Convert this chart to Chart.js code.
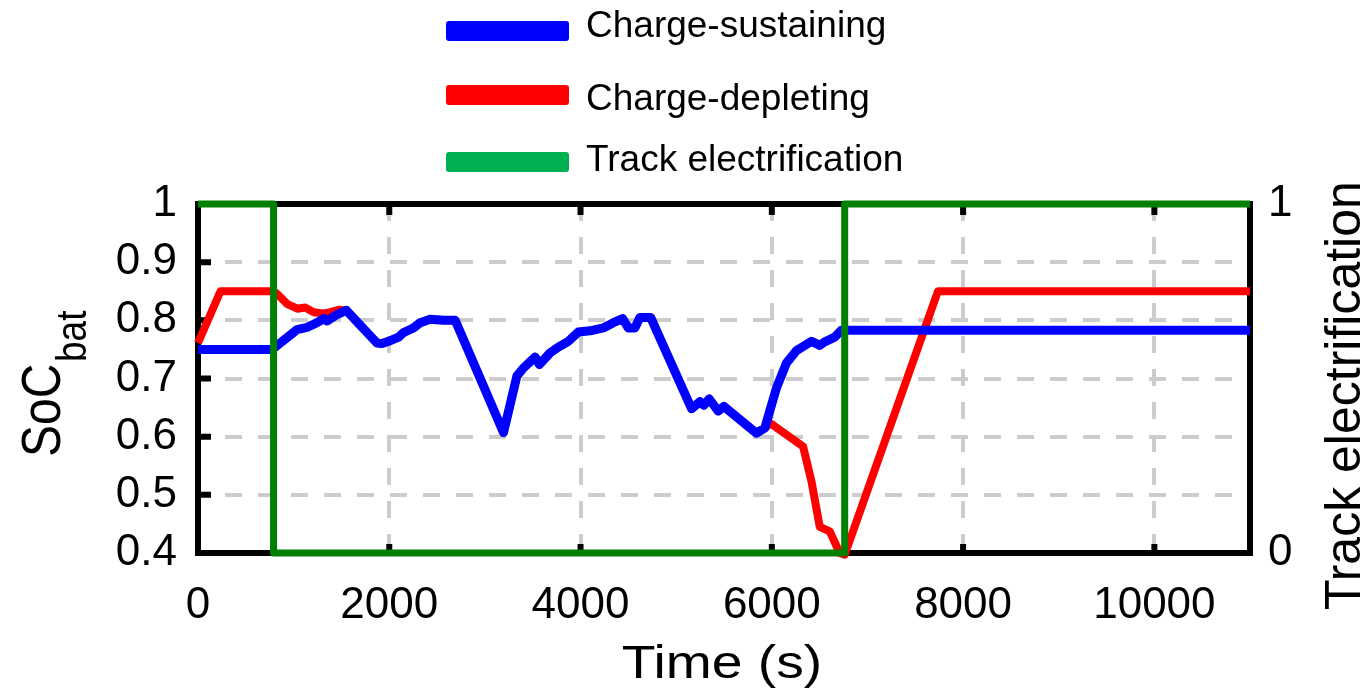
<!DOCTYPE html>
<html>
<head>
<meta charset="utf-8">
<script src="https://cdn.jsdelivr.net/npm/chart.js@4.4.1/dist/chart.umd.min.js"></script>
<style>
  html, body { margin: 0; padding: 0; background: #fff; }
  #wrap { position: relative; width: 1368px; height: 689px; }
  #legend { position: absolute; left: 0; top: 0; font-family: "Liberation Sans", Arial, sans-serif; font-size: 37px; line-height: 37px; color: #000; }
  .swatch { position: absolute; left: 446px; width: 123px; height: 20px; border-radius: 3px; }
  .label { position: absolute; left: 586px; white-space: nowrap; }
</style>
</head>
<body>
<div id="wrap">
  <canvas id="chart" width="1368" height="689"></canvas>
  <div id="legend">
    <div class="swatch" style="top:21px;background:#0000ff"></div>
    <div class="label" style="top:6px">Charge-sustaining</div>
    <div class="swatch" style="top:85px;background:#ff0000"></div>
    <div class="label" style="top:79px">Charge-depleting</div>
    <div class="swatch" style="top:152px;background:#00b050"></div>
    <div class="label" style="top:140px">Track electrification</div>
  </div>
</div>
<script>
// tick values
const xTicks = [0, 2000, 4000, 6000, 8000, 10000];
const socTicks = [0.4, 0.5, 0.6, 0.7, 0.8, 0.9, 1];
const trackTicks = [0, 1];

// charge-sustaining, before it joins the depleting run
const csStartT = [0, 775, 1036, 1140, 1245, 1314, 1350, 1454];
const csStartV = [0.75, 0.75, 0.784, 0.788, 0.796, 0.803, 0.799, 0.81];

// charge-depleting, before it joins
const cdStartT = [0, 235, 790, 830, 935, 1040, 1120, 1210, 1310, 1385, 1470];
const cdStartV = [0.761, 0.85, 0.85, 0.845, 0.828, 0.82, 0.822, 0.814, 0.812, 0.814, 0.818];

// part where both strategies overlap
const sharedT = [1551, 1871, 1924, 2010, 2097, 2149, 2202, 2254, 2324, 2428, 2567, 2689,
  3194, 3334, 3403, 3525, 3570, 3681, 3768, 3873, 3977, 4099, 4238, 4343, 4440, 4499,
  4569, 4621, 4733, 5161, 5248, 5290, 5345, 5439, 5499, 5840, 5927];
const sharedV = [0.817, 0.761, 0.76, 0.765, 0.771, 0.779, 0.783, 0.787, 0.796, 0.802, 0.8, 0.8,
  0.607, 0.704, 0.718, 0.737, 0.724, 0.744, 0.754, 0.764, 0.78, 0.782, 0.787, 0.796, 0.803, 0.787,
  0.787, 0.805, 0.805, 0.648, 0.66, 0.654, 0.665, 0.644, 0.652, 0.606, 0.615];

// after they split again
const csEndT = [6049, 6154, 6258, 6415, 6501, 6553, 6658, 6728, 11000];
const csEndV = [0.684, 0.727, 0.748, 0.764, 0.757, 0.763, 0.771, 0.783, 0.783];
const cdEndT = [5985, 6327, 6415, 6501, 6606, 6710, 6762, 7737, 11000];
const cdEndV = [0.623, 0.583, 0.523, 0.445, 0.437, 0.40, 0.397, 0.85, 0.85];

// track electrification on/off
const trackT = [0, 790, 790, 6762, 6762, 11000];
const trackV = [1, 1, 0, 0, 1, 1];

const pts = (t, v) => t.map((x, i) => ({ x: x, y: v[i] }));

const csData = pts(csStartT.concat(sharedT, csEndT), csStartV.concat(sharedV, csEndV));
const cdData = pts(cdStartT.concat(sharedT, cdEndT), cdStartV.concat(sharedV, cdEndV));
const trackData = pts(trackT, trackV);

const FONT = '"Liberation Sans", Arial, sans-serif';

function setTicks(list) {
    return scale => { scale.ticks = list.map(v => ({ value: v })); };
}

const frame = {
    id: 'frame',
    beforeDatasetsDraw(chart) {
        const { ctx, chartArea: a, scales } = chart;
        ctx.save();
        ctx.strokeStyle = '#000';
        ctx.lineWidth = 6;
        ctx.setLineDash([]);
        ctx.beginPath();
        xTicks.forEach(v => {
            const px = scales.x.getPixelForValue(v);
            ctx.moveTo(px, a.top); ctx.lineTo(px, a.top + 11);
            ctx.moveTo(px, a.bottom); ctx.lineTo(px, a.bottom - 9);
        });
        socTicks.forEach(v => {
            const py = scales.y.getPixelForValue(v);
            ctx.moveTo(a.left, py); ctx.lineTo(a.left + 13, py);
        });
        ctx.stroke();
        ctx.strokeRect(a.left, a.top, a.right - a.left, a.bottom - a.top);
        ctx.restore();
    },
    afterDraw(chart) {
        const ctx = chart.ctx;
        ctx.save();
        ctx.fillStyle = '#000';
        ctx.textBaseline = 'alphabetic';

        // SoC_bat
        ctx.textAlign = 'left';
        ctx.save();
        ctx.translate(60, 457); ctx.scale(1.15, 1); ctx.rotate(-Math.PI / 2);
        ctx.font = '48px ' + FONT;
        ctx.fillText('SoC', 0, 0);
        ctx.restore();
        ctx.save();
        ctx.translate(86, 362); ctx.scale(1.15, 1); ctx.rotate(-Math.PI / 2);
        ctx.font = '37px ' + FONT;
        ctx.fillText('bat', 0, 0);
        ctx.restore();

        // right axis title
        ctx.save();
        ctx.translate(1360, 610); ctx.rotate(-Math.PI / 2);
        ctx.font = '50px ' + FONT;
        ctx.fillText('Track electrification', 0, 0);
        ctx.restore();

        // x title
        ctx.save();
        ctx.translate(722, 678); ctx.scale(1.2, 1);
        ctx.textAlign = 'center';
        ctx.font = '46px ' + FONT;
        ctx.fillText('Time (s)', 0, 0);
        ctx.restore();

        ctx.restore();
    }
};

new Chart(document.getElementById('chart').getContext('2d'), {
    type: 'line',
    data: {
        datasets: [
            { label: 'Track electrification', data: trackData, yAxisID: 'y2', borderColor: '#008000', borderWidth: 7, order: 0 },
            { label: 'Charge-sustaining', data: csData, yAxisID: 'y', borderColor: '#0000ff', borderWidth: 9, order: 1 },
            { label: 'Charge-depleting', data: cdData, yAxisID: 'y', borderColor: '#ff0000', borderWidth: 8, order: 2 }
        ]
    },
    options: {
        responsive: false,
        animation: false,
        devicePixelRatio: 1,
        clip: false,
        layout: { padding: { top: 204, left: 0, right: 0, bottom: 0 } },
        elements: {
            point: { radius: 0 },
            line: { tension: 0, borderJoinStyle: 'round', borderCapStyle: 'butt', fill: false }
        },
        plugins: { legend: { display: false }, tooltip: { enabled: false } },
        scales: {
            x: {
                type: 'linear', min: 0, max: 11000,
                afterBuildTicks: setTicks(xTicks),
                afterFit: s => { s.height = 136; },
                grid: { color: '#cccccc', lineWidth: 4, drawTicks: false },
                border: { display: false, dash: [17, 16] },
                ticks: { color: '#000', padding: 26, maxRotation: 0, font: { family: FONT, size: 44 }, callback: v => String(v) }
            },
            y: {
                type: 'linear', position: 'left', min: 0.4, max: 1,
                afterBuildTicks: setTicks(socTicks),
                afterFit: s => { s.width = 198; },
                grid: { color: '#cccccc', lineWidth: 4, drawTicks: false },
                border: { display: false, dash: [17, 16], dashOffset: 6 },
                ticks: { color: '#000', padding: 21, font: { family: FONT, size: 44 }, callback: v => String(+v.toFixed(1)) }
            },
            y2: {
                type: 'linear', position: 'right', min: 0, max: 1,
                afterBuildTicks: setTicks(trackTicks),
                afterFit: s => { s.width = 118; },
                grid: { display: false, drawTicks: false },
                border: { display: false },
                ticks: { color: '#000', padding: 18, font: { family: FONT, size: 44 } }
            }
        }
    },
    plugins: [frame]
});
</script>
</body>
</html>
